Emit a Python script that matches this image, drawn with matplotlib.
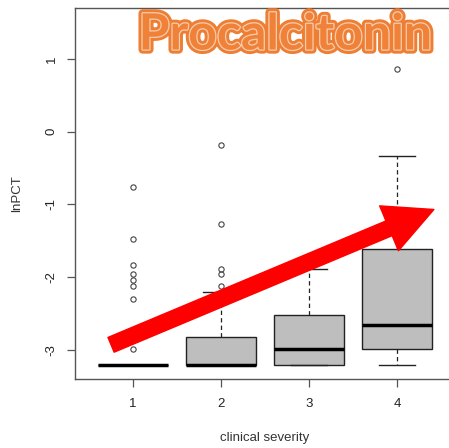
import matplotlib
matplotlib.use("Agg")
import matplotlib.pyplot as plt
import matplotlib.patheffects as pe

# clinical severity groups and box statistics (lnPCT)
groups = [1, 2, 3, 4]
q1 = [-3.21, -3.21, -3.21, -2.99]
med = [-3.21, -3.21, -2.99, -2.66]
q3 = [-3.21, -2.82, -2.52, -1.61]
whislo = [-3.21, -3.21, -3.21, -3.21]
whishi = [-3.21, -2.21, -1.89, -0.34]
fliers = [
    [-0.76, -1.48, -1.83, -1.96, -2.04, -2.12, -2.30, -2.99],
    [-0.18, -1.27, -1.89, -1.96, -2.12],
    [],
    [0.86],
]
yticks = [-3, -2, -1, 0, 1]

# trend arrow (data coords): tail -> tip
arrow_tail = (0.75, -2.93)
arrow_tip = (4.42, -1.07)

plt.rcParams['font.family'] = ['Liberation Sans', 'DejaVu Sans']

fig = plt.figure(figsize=(4.49, 4.48), dpi=100)
ax = fig.add_axes([75/449, 69/448, 380/449, 371/448])

stats = []
for i in range(len(groups)):
    stats.append(dict(med=med[i], q1=q1[i], q3=q3[i], whislo=whislo[i],
                      whishi=whishi[i], fliers=fliers[i], label=str(groups[i])))

ax.bxp(stats, positions=groups, widths=0.8, patch_artist=True,
       boxprops=dict(facecolor='#BEBEBE', edgecolor='#222222', linewidth=1),
       medianprops=dict(color='black', linewidth=2.5, solid_capstyle='butt'),
       whiskerprops=dict(color='#222222', linewidth=0.9, linestyle=(0, (3.5, 2.5))),
       capprops=dict(color='#222222', linewidth=1),
       capwidths=0.4,
       flierprops=dict(marker='o', markersize=3.8, markerfacecolor='none',
                       markeredgecolor='#444444', markeredgewidth=0.8))

ax.set_xlim(0.34, 4.66)
ax.set_ylim(-3.40, 1.70)
ax.set_yticks(yticks)
ax.set_yticklabels([str(v) for v in yticks], rotation=90, va='center')
ax.set_xticks(groups)
ax.set_xticklabels([str(g) for g in groups])
for s in ax.spines.values():
    s.set_color('#555555')
    s.set_linewidth(1)
ax.tick_params(axis='both', length=5.5, width=0.9, color='#555555',
               labelsize=9.5, labelcolor='#222222')
ax.tick_params(axis='y', pad=7)
ax.tick_params(axis='x', pad=8)
ax.set_ylabel('lnPCT', fontsize=9.5, color='#333333', labelpad=16)
ax.set_xlabel('clinical severity', fontsize=9.5, color='#333333', labelpad=16)

ax.annotate('', xy=arrow_tip, xytext=arrow_tail,
            arrowprops=dict(arrowstyle='simple,head_length=3.5,head_width=3.5,tail_width=1.15',
                            color='red', shrinkA=0, shrinkB=0, mutation_scale=10),
            zorder=10)

fig.text(285/449, 1 - 35/448, 'Procalcitonin', ha='center', va='center',
         fontsize=36, fontweight='bold', family='Lato', color='#EF8238',
         path_effects=[pe.Stroke(linewidth=6, foreground='#EE7E33'),
                       pe.Stroke(linewidth=1.8, foreground='#F8CDAE'),
                       pe.Normal()])

fig.savefig('out.png', dpi=100)
